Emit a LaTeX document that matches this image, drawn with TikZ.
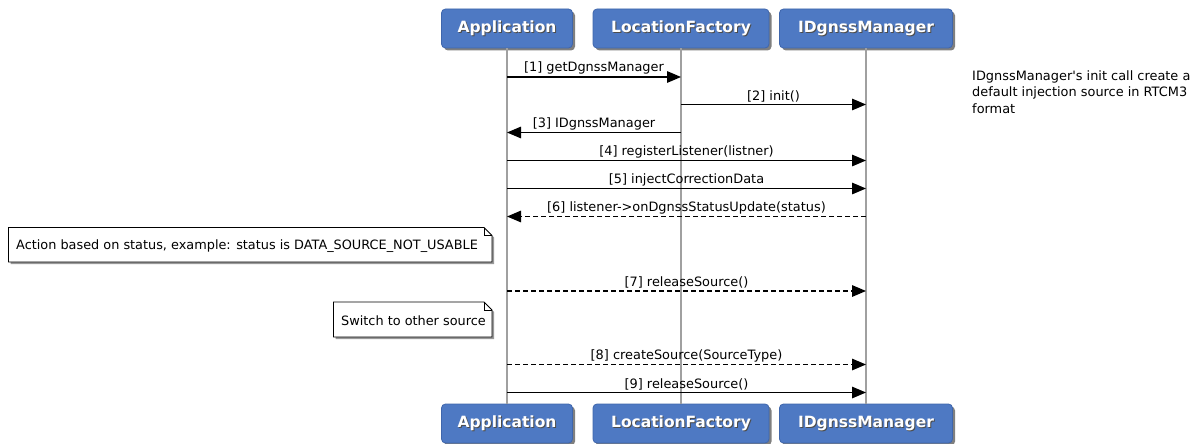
\documentclass[tikz,border=0pt]{standalone}
\usepackage{fontspec}
\setmainfont{DejaVu Sans}
\usetikzlibrary{arrows.meta,shadows}
\definecolor{pfill}{HTML}{4E79C3}
\definecolor{pdraw}{HTML}{3F66AC}
\definecolor{lifegray}{HTML}{A0A0A0}
\tikzset{
 part/.style={draw=pdraw, line width=0.8pt, fill=pfill, rounded corners=4pt, minimum height=39pt, inner sep=0pt,
   drop shadow={shadow xshift=2.5pt,shadow yshift=-2.5pt,opacity=0.5,fill=black}},
 parttxt/.style={text=white, font=\fontsize{15.5}{18}\selectfont\bfseries, inner sep=0pt},
 parttxtsh/.style={text=black!70, font=\fontsize{15.5}{18}\selectfont\bfseries, inner sep=0pt},
 life/.style={draw=lifegray, line width=1.6pt},
 msg/.style={line width=1.5pt, -{Triangle[length=14pt,width=11.5pt]}},
 reply/.style={msg, dash pattern=on 5pt off 3pt},
 lbl/.style={above, inner sep=0pt, yshift=2pt, font=\fontsize{12.9}{15}\selectfont},
 notetxt/.style={anchor=west, inner sep=0pt, font=\fontsize{12.85}{15}\selectfont},
 notebox/.style={draw=black, line width=0.8pt, fill=white,
   drop shadow={shadow xshift=2pt,shadow yshift=-2pt,opacity=0.4,fill=black}},
 sidetxt/.style={anchor=north west, align=left, inner sep=0pt, font=\fontsize{12.9}{16.5}\selectfont}
}
\newcommand{\mypart}[5]{%
 \node[part, minimum width=#4pt] (#1) at (#2,#3) {};
 \node[parttxtsh] (#1s) at ([xshift=1pt,yshift=-1pt]#1.center) {#5};
 \node[parttxt] (#1t) at (#1.center) {#5};
}
\newcommand{\mynote}[6]{%
 \draw[notebox] (#2,#3) -- ({#4-8},#3) -- (#4,{#3+8}) -- (#4,#5) -- (#2,#5) -- cycle;
 \draw[line width=0.8pt] ({#4-8},#3) -- ({#4-8},{#3+8}) -- (#4,{#3+8});
 \node[notetxt] (#1) at ({#2+7.5},{(#3+#5)/2+1}) {#6};
}
\begin{document}
\begin{tikzpicture}[x=1pt,y=-1pt]
\useasboundingbox[fill=white] (0,0) rectangle (1194,444);
% participants
\mypart{A1}{507}{28.5}{131}{Application}
\mypart{L1}{681}{28.5}{176}{LocationFactory}
\mypart{M1}{866}{28.5}{173}{IDgnssManager}
\mypart{A2}{507}{423.5}{131}{Application}
\mypart{L2}{681}{423.5}{176}{LocationFactory}
\mypart{M2}{866}{423.5}{173}{IDgnssManager}
% lifelines
\draw[life] (A1.south) -- (A2.north);
\draw[life] (L1.south) -- (L2.north);
\draw[life] (M1.south) -- (M2.north);
% message anchor points
\foreach \n/\y in {1/77,2/104.5,3/132.5,4/160.5,5/188.5,6/216.5,7/291,8/364.5,9/392.5}{
  \coordinate (a\n) at (A1 |- 0,\y);
  \coordinate (l\n) at (L1 |- 0,\y);
  \coordinate (m\n) at (M1 |- 0,\y);
}
% messages
\draw[msg] (a1) -- node[lbl] (t1) {[1] getDgnssManager} (l1);
\draw[msg] (l2) -- node[lbl] (t2) {[2] init()} (m2);
\draw[msg] (l3) -- node[lbl] (t3) {[3] IDgnssManager} (a3);
\draw[msg] (a4) -- node[lbl] (t4) {[4] registerListener(listner)} (m4);
\draw[msg] (a5) -- node[lbl] (t5) {[5] injectCorrectionData} (m5);
\draw[reply] (m6) -- node[lbl] (t6) {[6] listener->onDgnssStatusUpdate(status)} (a6);
\draw[reply] (a7) -- node[lbl] (t7) {[7] releaseSource()} (m7);
\draw[reply] (a8) -- node[lbl] (t8) {[8] createSource(SourceType)} (m8);
\draw[msg] (a9) -- node[lbl] (t9) {[9] releaseSource()} (m9);
% notes
\mynote{n1}{8.5}{227.5}{492}{262}{Action based on status, example: status is DATA\_SOURCE\_NOT\_USABLE}
\mynote{n2}{333.5}{302}{492}{337}{Switch to other source}
% side text
\node[sidetxt] (side) at (972,70) {IDgnssManager\textquotesingle s init call create a\\default injection source in RTCM3\\format};
\end{tikzpicture}
\end{document}
